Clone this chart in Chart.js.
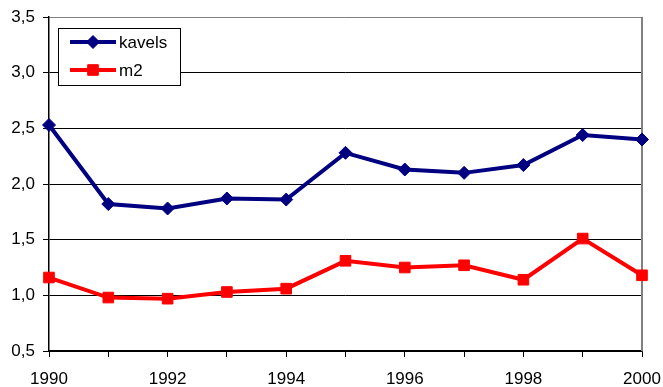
<!DOCTYPE html>
<html>
<head>
<meta charset="utf-8">
<script src="https://cdn.jsdelivr.net/npm/chart.js@4/dist/chart.umd.min.js"></script>
<style>
  html, body { margin: 0; padding: 0; background: #fff; }
  #wrap { width: 663px; height: 387px; }
</style>
</head>
<body>
<div id="wrap"><canvas id="c" width="663" height="387"></canvas></div>
<script>
// Years on the horizontal axis
const years = ['1990','1991','1992','1993','1994','1995','1996','1997','1998','1999','2000'];
// Average number of plots (kavels) per year
const kavels = [2.53, 1.82, 1.78, 1.87, 1.86, 2.28, 2.13, 2.10, 2.17, 2.44, 2.40];
// Average area (m2) per year
const m2 = [1.16, 0.98, 0.97, 1.03, 1.06, 1.31, 1.25, 1.27, 1.14, 1.51, 1.18];
// Vertical axis range and step
const yMin = 0.5, yMax = 3.5, yStep = 0.5;

const FONT = { family: '"Liberation Sans", Arial, sans-serif', size: 17 };

// Legend drawn as line-plus-marker samples inside a framed box
const boxLegend = {
  id: 'boxLegend',
  afterDraw(chart) {
    const ctx = chart.ctx;
    const x0 = 58.5, y0 = 28.5, w = 122, h = 57;
    ctx.save();
    ctx.fillStyle = '#fff';
    ctx.fillRect(x0, y0, w, h);
    ctx.strokeStyle = '#000';
    ctx.lineWidth = 1;
    ctx.strokeRect(x0, y0, w, h);
    const rows = [{ ds: chart.data.datasets[0], y: 42 }, { ds: chart.data.datasets[1], y: 70 }];
    rows.forEach(r => {
      ctx.strokeStyle = r.ds.borderColor;
      ctx.lineWidth = r.ds.borderWidth;
      ctx.beginPath();
      ctx.moveTo(70, r.y);
      ctx.lineTo(116, r.y);
      ctx.stroke();
      ctx.fillStyle = r.ds.pointBackgroundColor;
      ctx.strokeStyle = r.ds.pointBorderColor;
      ctx.lineWidth = r.ds.pointBorderWidth;
      Chart.helpers.drawPoint(ctx, {
        pointStyle: r.ds.pointStyle,
        radius: r.ds.pointRadius,
        borderWidth: r.ds.pointBorderWidth,
        rotation: 0
      }, 93, r.y);
      ctx.fillStyle = '#000';
      ctx.font = FONT.size + 'px ' + FONT.family;
      ctx.textBaseline = 'middle';
      ctx.textAlign = 'left';
      ctx.fillText(r.ds.label, 119, r.y + 1);
    });
    ctx.restore();
  }
};

// Grey frame on the right edge of the plot area
const plotFrame = {
  id: 'plotFrame',
  beforeDatasetsDraw(chart) {
    const { ctx, chartArea } = chart;
    ctx.save();
    ctx.strokeStyle = '#808080';
    ctx.lineWidth = 2;
    ctx.beginPath();
    ctx.moveTo(chartArea.right, chartArea.top);
    ctx.lineTo(chartArea.right, chartArea.bottom);
    ctx.stroke();
    ctx.restore();
  }
};

new Chart(document.getElementById('c'), {
  type: 'line',
  data: {
    labels: years,
    datasets: [
      {
        label: 'kavels',
        data: kavels,
        borderColor: '#000080',
        backgroundColor: '#000080',
        borderWidth: 4,
        pointStyle: 'rectRot',
        pointRadius: 6.5,
        pointBackgroundColor: '#000080',
        pointBorderColor: '#000080',
        pointBorderWidth: 1,
        tension: 0
      },
      {
        label: 'm2',
        data: m2,
        borderColor: '#ff0000',
        backgroundColor: '#ff0000',
        borderWidth: 4,
        pointStyle: 'rect',
        pointRadius: 7.5,
        pointBackgroundColor: '#ff0000',
        pointBorderColor: '#ff0000',
        pointBorderWidth: 1,
        tension: 0
      }
    ]
  },
  options: {
    responsive: false,
    animation: false,
    layout: { padding: { left: 0, right: 21, top: 17, bottom: 0 } },
    plugins: { legend: { display: false }, tooltip: { enabled: false } },
    scales: {
      x: {
        type: 'category',
        offset: false,
        border: { color: '#000', width: 1.5 },
        grid: { drawOnChartArea: false, drawTicks: true, tickLength: 6, color: '#000', lineWidth: 1 },
        ticks: {
          autoSkip: false,
          maxRotation: 0,
          color: '#000',
          font: FONT,
          padding: 12,
          callback: function (v, i) { return i % 2 === 0 ? years[i] : ''; }
        },
        afterFit(s) { s.height = 36; s.paddingLeft = 0; s.paddingRight = 0; }
      },
      y: {
        min: yMin,
        max: yMax,
        border: { color: '#000', width: 1.5 },
        grid: {
          drawTicks: true,
          tickLength: 6,
          lineWidth: 1,
          color: ctx => (ctx.tick && ctx.tick.value === yMax ? '#808080' : '#000'),
          tickColor: '#000'
        },
        ticks: {
          stepSize: yStep,
          color: '#000',
          font: FONT,
          padding: 8,
          callback: v => v.toFixed(1).replace('.', ',')
        },
        afterFit(s) { s.width = 49; s.paddingTop = 0; s.paddingBottom = 0; }
      }
    }
  },
  plugins: [plotFrame, boxLegend]
});
</script>
</body>
</html>
